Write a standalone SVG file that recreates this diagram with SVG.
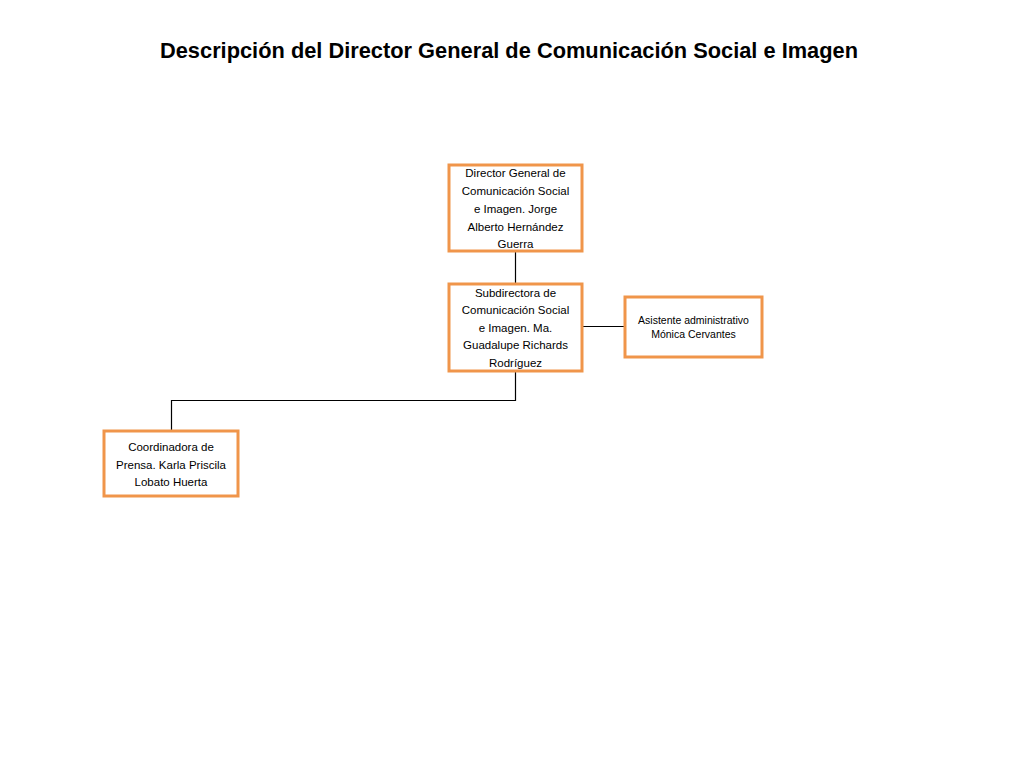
<svg xmlns="http://www.w3.org/2000/svg" width="1024" height="768" viewBox="0 0 1024 768">
<style>
.box{fill:#ffffff;stroke:#f0954a;stroke-width:3}
.t{font-family:"Liberation Sans",Arial,sans-serif;font-size:11.5px;fill:#000;text-anchor:middle}
.s{font-family:"Liberation Sans",Arial,sans-serif;font-size:10.5px;fill:#000;text-anchor:middle}
.title{font-family:"Liberation Sans",Arial,sans-serif;font-size:22.5px;font-weight:bold;fill:#000;text-anchor:middle}
.c{fill:none;stroke:#000;stroke-width:1.2}
</style>
<rect width="1024" height="768" fill="#ffffff"/>
<text class="title" x="509" y="58" textLength="698" lengthAdjust="spacingAndGlyphs">Descripción del Director General de Comunicación Social e Imagen</text>
<g id="connectors">
<path class="c" d="M515.5 251 V283"/>
<path class="c" d="M583 326.5 H624"/>
<path class="c" d="M515.5 371 V400.5 H171.5 V431"/>
</g>
<g id="director">
<rect class="box" x="449" y="165" width="133" height="86"/>
<text class="t" x="515.5" y="177">Director General de</text>
<text class="t" x="515.5" y="195">Comunicación Social</text>
<text class="t" x="515.5" y="213">e Imagen. Jorge</text>
<text class="t" x="515.5" y="231">Alberto Hernández</text>
<text class="t" x="515.5" y="248">Guerra</text>
</g>
<g id="subdirectora">
<rect class="box" x="449" y="284" width="133" height="87"/>
<text class="t" x="515.5" y="297">Subdirectora de</text>
<text class="t" x="515.5" y="314">Comunicación Social</text>
<text class="t" x="515.5" y="332">e Imagen. Ma.</text>
<text class="t" x="515.5" y="349">Guadalupe Richards</text>
<text class="t" x="515.5" y="367">Rodríguez</text>
</g>
<g id="asistente">
<rect class="box" x="625" y="297" width="137" height="60"/>
<text class="s" x="693.5" y="324">Asistente administrativo</text>
<text class="s" x="693.5" y="338">Mónica Cervantes</text>
</g>
<g id="coordinadora">
<rect class="box" x="104" y="431" width="134" height="65"/>
<text class="t" x="171" y="451">Coordinadora de</text>
<text class="t" x="171" y="469">Prensa. Karla Priscila</text>
<text class="t" x="171" y="486">Lobato Huerta</text>
</g>
</svg>
